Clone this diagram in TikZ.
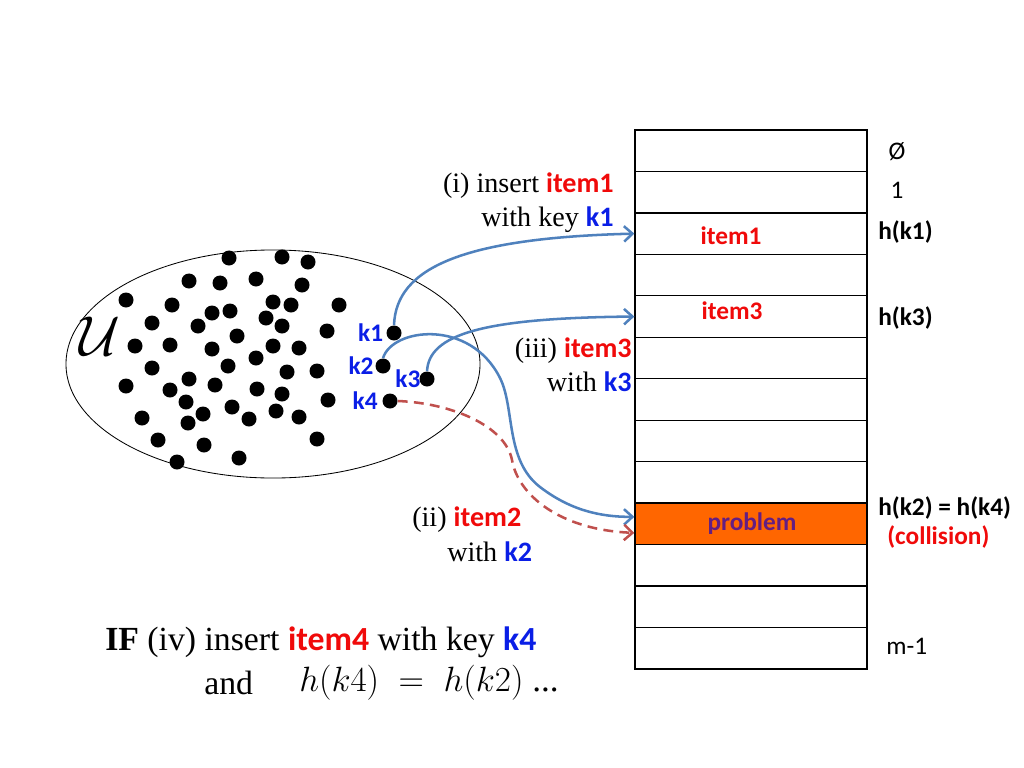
\RequirePackage{fix-cm}
\documentclass[tikz,border=0pt]{standalone}
\usepackage{fontspec}
\setmainfont{Liberation Serif}
\setsansfont{Carlito}
\usepackage{tikz}
\usetikzlibrary{arrows.meta,positioning,calc}
\definecolor{keyblue} {RGB}{10,30,230}
\definecolor{itemred} {RGB}{240,10,10}
\definecolor{arrblue} {RGB}{79,129,189}
\definecolor{dashred} {RGB}{192,80,77}
\definecolor{probfill}{RGB}{255,102,0}
\definecolor{probtext}{RGB}{100,30,130}
\newcommand{\itm}[1]{{\sffamily\bfseries\color{itemred}#1}}
\newcommand{\ky}[1]{{\sffamily\bfseries\color{keyblue}#1}}
\tikzset{
  cell/.style   ={draw, line width=0.9pt, minimum width=5.8cm,
                  minimum height=1.0365cm, inner sep=0pt},
  dot/.style    ={circle, fill=black, minimum size=0.375cm, inner sep=0pt},
  keytxt/.style ={font=\sffamily\bfseries\fontsize{18}{20}\selectfont,
                  text=keyblue, inner sep=1pt},
  celltxt/.style={font=\sffamily\bfseries\fontsize{18}{20}\selectfont,
                  inner sep=0pt},
  idx/.style    ={font=\sffamily\fontsize{18}{20}\selectfont, inner sep=0pt},
  hidx/.style   ={idx, font=\sffamily\bfseries\fontsize{18}{20}\selectfont,
                  anchor=west},
  lbl/.style    ={font=\fontsize{20}{24}\selectfont, align=right, inner sep=0pt},
  biglbl/.style ={font=\fontsize{24}{28}\selectfont, inner sep=0pt, anchor=west},
  arr/.style    ={-{Straight Barb[length=6pt,width=11pt]}, line width=1.8pt,
                  draw=arrblue},
  darr/.style   ={-{Straight Barb[length=6pt,width=11pt]}, line width=1.8pt,
                  draw=dashred, dash pattern=on 7pt off 4.5pt},
}

\begin{document}
\begin{tikzpicture}[x=0.025cm,y=-0.025cm]
  \useasboundingbox (0,0) rectangle (1024,768);
  % universe of keys
  \draw[line width=0.6pt] (273,364) ellipse [x radius=5.175cm, y radius=2.85cm];
  \node[font=\fontsize{40}{44}\selectfont, inner sep=0pt] (univ) at (100,336) {$\mathcal{U}$};
  \foreach \px/\py in {229/258,282/257,308/262,189/281,220/283,256/279,302/285,
      126/300,172/305,273/302,291/305,339/305,212/313,230/311,266/318,152/323,
      198/326,282/326,327/331,237/336,135/346,170/345,212/349,273/346,299/348,
      256/358,152/368,228/366,287/372,317/371,126/386,189/379,215/385,170/390,
      257/389,282/394,328/400,186/402,232/407,203/414,276/411,249/419,299/417,
      142/418,188/423,158/440,204/445,317/439,177/462,239/458}
    \fill (\px,\py) circle (0.1875cm);
  \node[dot] (d1) at (394,333) {};
  \node[dot] (d2) at (383,366) {};
  \node[dot] (d3) at (427,379) {};
  \node[dot] (d4) at (390,401) {};
  \node[keytxt, left=1pt of d1] (k1) {k1};
  \node[keytxt, left=0pt of d2] (k2) {k2};
  \node[keytxt, left=-2pt of d3] (k3) {k3};
  \node[keytxt, left=2pt of d4] (k4) {k4};
  % hash table
  \foreach \i in {0,...,12}{
    \ifnum\i=9 \def\cellfill{probfill}\else\def\cellfill{white}\fi
    \node[cell, fill=\cellfill] (row\i) at (751,150.7+41.46*\i) {};
  }
  \node[celltxt, text=itemred] (it1) at (731,236) {item1};
  \node[celltxt, text=itemred] (it3) at (732,311) {item3};
  \node[celltxt, text=probtext] (prob) at (752,524) {problem};
  \node[idx] (i0) at (897,152) {Ø};
  \node[idx] (i1) at (897,190) {1};
  \node[hidx] (hk1) at (878,232) {h(k1)};
  \node[hidx] (hk3) at (878,318) {h(k3)};
  \node[hidx] (hk2) at (878,508) {h(k2) = h(k4)};
  \node[hidx, text=itemred] (coll) at (887,537) {(collision)};
  \node[idx, anchor=west] (im) at (886,646) {m-1};
  % insertions
  \node[lbl, anchor=east] (ins1) at (614,203) {(i) insert \itm{item1}\\with key \ky{k1}};
  \node[lbl, anchor=east] (ins3) at (632,365) {(iii) \itm{item3}\\with \ky{k3}};
  \node[lbl, anchor=west] (ins2a) at (412,520) {(ii) \itm{item2}};
  \node[lbl, anchor=west] (ins2b) at (447,552) {with \ky{k2}};
  \draw[arr] (d1.north) .. controls (396,268) and (462,238) .. (row2.west);
  \draw[arr] (d3.north) .. controls (429,335) and (480,318) .. (row4.west);
  \draw[arr] (d2.north) .. controls (392,328) and (470,318) .. (500,378)
             .. controls (515,408) and (505,460) .. (540,487)
             .. controls (570,510) and (600,517) .. ([yshift=0.175cm]row9.west);
  \draw[darr] (d4.east) .. controls (450,403) and (505,425) .. (512,460)
              .. controls (518,495) and (560,530) .. ([yshift=-0.225cm]row9.west);
  % the question
  \node[biglbl] (ifl) at (105,642) {\textbf{IF} (iv) insert \itm{item4} with key \ky{k4}};
  \node[biglbl] (andl) at (204,683) {and};
  \node[biglbl] (eql) at (299,683) {\fontsize{25}{28}\selectfont$h(k4)\;=\;h(k2)$ ...};
\end{tikzpicture}
\end{document}
